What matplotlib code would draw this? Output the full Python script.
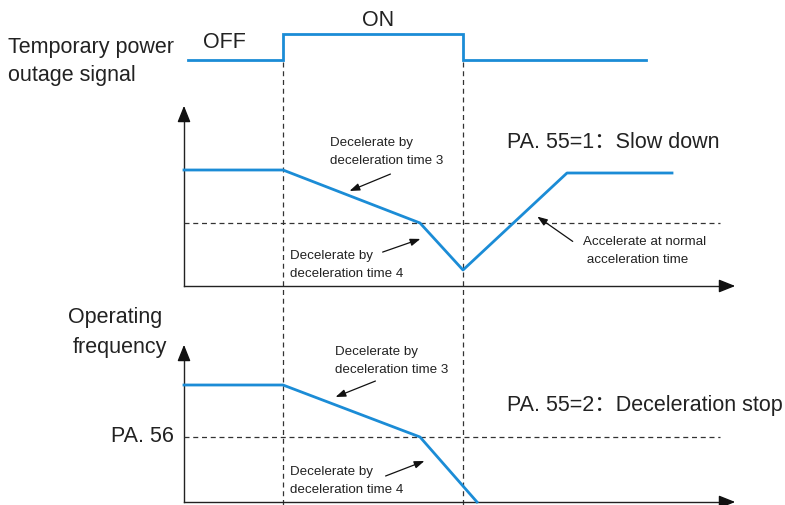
import matplotlib
matplotlib.use("Agg")
import matplotlib.pyplot as plt

FAM = ['Liberation Sans', 'Noto Sans CJK SC', 'DejaVu Sans']
plt.rcParams['font.family'] = FAM

W, H = 785, 505
BLUE = '#1b8cd6'

# Signal trace (pixel coordinates of the schematic)
sig_x = [188, 283, 283, 463, 463, 646]
sig_y = [60, 60, 34, 34, 60, 60]

# Panel 1 (PA.55=1, slow down) frequency trace
p1_x = [184, 283, 420, 463, 567, 672]
p1_y = [170, 170, 223, 270, 173, 173]
p1_level = 223

# Panel 2 (PA.55=2, deceleration stop) frequency trace
p2_x = [184, 283, 420, 477]
p2_y = [385, 385, 437, 502]
p2_level = 437

event_x = [283, 463]

fig = plt.figure(figsize=(W / 100, H / 100), dpi=100)
ax = fig.add_axes([0, 0, 1, 1])
ax.set_xlim(0, W)
ax.set_ylim(H, 0)
ax.axis('off')

# dashed event lines
for x in event_x:
    ax.plot([x, x], [62, H], color='#333333', lw=0.9, ls=(0, (4, 3)))

# signal
ax.plot(sig_x, sig_y, color=BLUE, lw=2.0, solid_joinstyle='miter')

def axes_arrows(x0, ybot, ytop, xright):
    ax.plot([x0, x0], [ybot, ytop + 8], color='#222222', lw=1.0)
    ax.plot([x0, xright - 8], [ybot, ybot], color='#222222', lw=1.0)
    ax.annotate('', xy=(x0, ytop), xytext=(x0, ytop + 14),
                arrowprops=dict(arrowstyle='-|>,head_length=1.0,head_width=0.4', color='#111111', lw=1.0))
    ax.annotate('', xy=(xright, ybot), xytext=(xright - 14, ybot),
                arrowprops=dict(arrowstyle='-|>,head_length=1.0,head_width=0.4', color='#111111', lw=1.0))

axes_arrows(184, 286, 103, 738)
axes_arrows(184, 502, 342, 738)

# horizontal dashed levels
ax.plot([184, 720], [p1_level, p1_level], color='#333333', lw=0.9, ls=(0, (4, 3)))
ax.plot([184, 720], [p2_level, p2_level], color='#333333', lw=0.9, ls=(0, (4, 3)))

# traces
ax.plot(p1_x, p1_y, color=BLUE, lw=2.0)
ax.plot(p2_x, p2_y, color=BLUE, lw=2.0)

big = 15.5
small = 9.6
TC = '#222222'
ax.text(8, 47, 'Temporary power', fontsize=big, va='center', ha='left', color=TC)
ax.text(8, 75, 'outage signal', fontsize=big, va='center', ha='left', color=TC)
ax.text(203, 42, 'OFF', fontsize=big, va='center', ha='left', color=TC)
ax.text(362, 20, 'ON', fontsize=big, va='center', ha='left', color=TC)
ax.text(507, 142, 'PA. 55=1：Slow down', fontsize=big, va='center', ha='left', color=TC)
ax.text(507, 406, 'PA. 55=2：Deceleration stop', fontsize=big, va='center', ha='left', color=TC)
ax.text(68, 318, 'Operating', fontsize=big, va='center', ha='left', color=TC)
ax.text(73, 348, 'frequency', fontsize=big, va='center', ha='left', color=TC)
ax.text(174, 437, 'PA. 56', fontsize=big, va='center', ha='right', color=TC)

def note(x, y, lines):
    for i, s in enumerate(lines):
        ax.text(x, y + i * 18, s, fontsize=small, va='center', ha='left', color=TC)

note(330, 143, ['Decelerate by', 'deceleration time 3'])
note(290, 256, ['Decelerate by', 'deceleration time 4'])
note(583, 242, ['Accelerate at normal', ' acceleration time'])
note(335, 352, ['Decelerate by', 'deceleration time 3'])
note(290, 472, ['Decelerate by', 'deceleration time 4'])

def arr(tail, head):
    ax.annotate('', xy=head, xytext=tail,
                arrowprops=dict(arrowstyle='-|>,head_length=0.6,head_width=0.22', color='#111111', lw=0.9))

arr((393, 173), (347, 192))
arr((380, 253), (423, 238))
arr((575, 243), (535, 215))
arr((378, 380), (333, 398))
arr((383, 477), (427, 460))

fig.savefig('out.png', dpi=100, facecolor='white')
